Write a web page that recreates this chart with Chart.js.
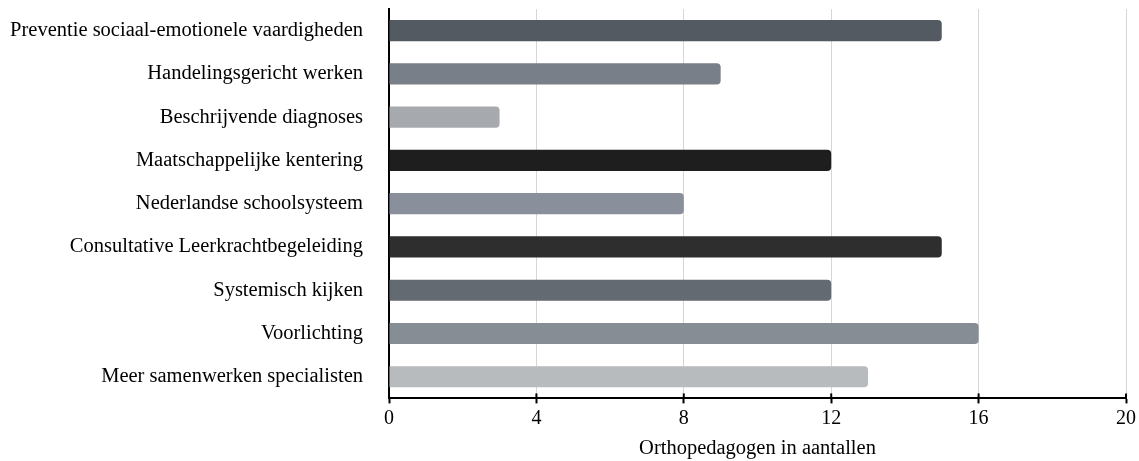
<!DOCTYPE html>
<html>
<head>
<meta charset="utf-8">
<script src="https://cdn.jsdelivr.net/npm/chart.js@4"></script>
<style>
    html, body { margin: 0; padding: 0; background: #ffffff; }
    #wrap { width: 1139px; height: 461px; }
</style>
</head>
<body>
<div id="wrap"><canvas id="trainingChart"></canvas></div>
<script>
const categories = [
    'Preventie sociaal-emotionele vaardigheden',
    'Handelingsgericht werken',
    'Beschrijvende diagnoses',
    'Maatschappelijke kentering',
    'Nederlandse schoolsysteem',
    'Consultative Leerkrachtbegeleiding',
    'Systemisch kijken',
    'Voorlichting',
    'Meer samenwerken specialisten'
];
const counts = [15, 9, 3, 12, 8, 15, 12, 16, 13];
const barColors = ['#535a62', '#787f88', '#a6a9ad', '#1e1e1e', '#8a909b', '#2e2e2e', '#646a72', '#878d94', '#b8bbbd'];
const xTicks = [0, 4, 8, 12, 16, 20];
const xTitle = 'Orthopedagogen in aantallen';

const serif = "'Liberation Serif', 'DejaVu Serif', serif";

// small tick marks poking above the x axis line, like in the original
const tickCross = {
    id: 'tickCross',
    afterDraw(chart) {
        const x = chart.scales.x;
        const c = chart.ctx;
        c.save();
        c.strokeStyle = '#000000';
        c.lineWidth = 2;
        xTicks.forEach(v => {
            const px = x.getPixelForValue(v);
            c.beginPath();
            c.moveTo(px, x.top - 5);
            c.lineTo(px, x.top);
            c.stroke();
        });
        c.restore();
    }
};

const ctx = document.getElementById('trainingChart').getContext('2d');

const trainingChart = new Chart(ctx, {
    type: 'bar',
    data: {
        labels: categories,
        datasets: [{
            data: counts,
            backgroundColor: barColors,
            borderRadius: 4,
            borderSkipped: 'start',
            categoryPercentage: 1,
            barPercentage: 0.49
        }]
    },
    options: {
        indexAxis: 'y',
        responsive: true,
        maintainAspectRatio: false,
        animation: false,
        layout: {
            autoPadding: false,
            padding: { top: 9, right: 13, bottom: 0, left: 9 }
        },
        plugins: {
            legend: { display: false },
            title: { display: false },
            tooltip: { enabled: true }
        },
        scales: {
            x: {
                type: 'linear',
                min: 0,
                max: 20,
                afterBuildTicks: (axis) => {
                    axis.ticks = xTicks.map(v => ({ value: v }));
                },
                border: { display: true, color: '#000000', width: 2 },
                grid: {
                    color: '#d6d6d6',
                    lineWidth: 1,
                    tickColor: '#000000',
                    tickLength: 5,
                    tickWidth: 2
                },
                ticks: {
                    color: '#000000',
                    padding: 3,
                    font: { family: serif, size: 20 }
                },
                title: {
                    display: true,
                    text: xTitle,
                    color: '#000000',
                    padding: { top: 3, bottom: 0 },
                    font: { family: serif, size: 20.5 }
                }
            },
            y: {
                afterFit: (axis) => {
                    // fixed label column, no extra top/bottom room
                    axis.width = 380;
                    axis.paddingTop = 0;
                    axis.paddingBottom = 0;
                },
                border: { display: true, color: '#000000', width: 2 },
                grid: { display: false, drawTicks: false },
                ticks: {
                    color: '#000000',
                    padding: 26,
                    font: { family: serif, size: 20.5 }
                }
            }
        }
    },
    plugins: [tickCross]
});
</script>
</body>
</html>
